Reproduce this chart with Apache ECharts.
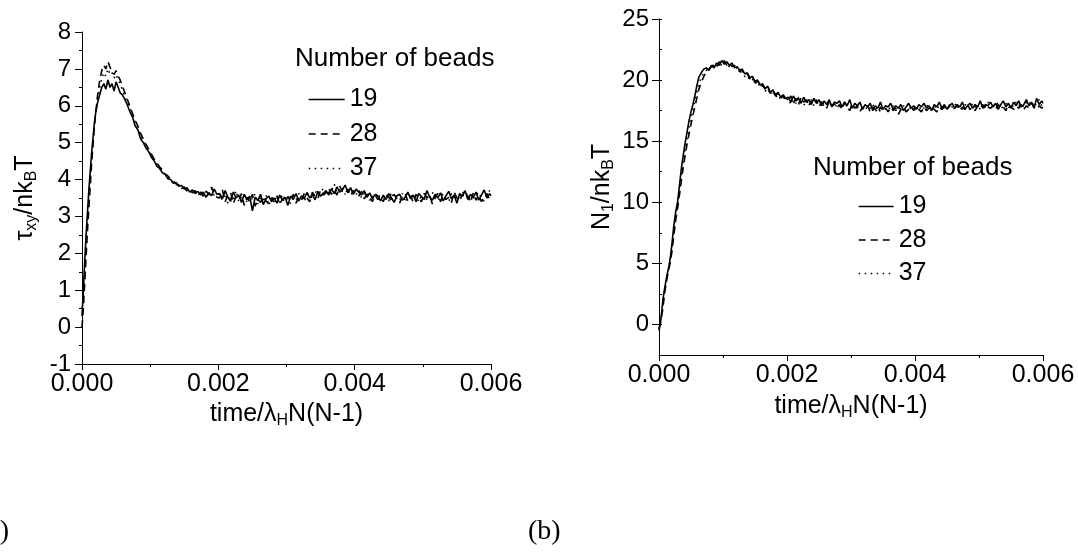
<!DOCTYPE html>
<html>
<head>
<meta charset="utf-8">
<script src="https://cdn.jsdelivr.net/npm/echarts@6/dist/echarts.min.js"></script>
<style>
html,body{margin:0;padding:0;background:#fff;}
#chart{width:1078px;height:552px;}
</style>
</head>
<body>
<div id="chart"></div>
<script>
// time grid, in units of 1e-5 (time/λH N(N-1))
const TIME_1E5 = [
  0,2,4,6,8,10,12,14,16,18,20,
  23,26,29,32,35,38,41,44,47,50,53,56,59,62,
  66,70,74,78,82,86,90,94,98,102,106,110,114,118,122,126,130,134,138,142,146,150,154,158,162,166,170,174,178,182,186,190,194,198,
  202,206,210,214,218,222,226,230,234,238,
  242,246,250,254,258,262,266,270,274,278,
  282,286,290,294,298,302,306,310,314,318,
  322,326,330,334,338,342,346,350,354,358,
  362,366,370,374,378,382,386,390,394,398,
  402,406,410,414,418,422,426,430,434,438,
  442,446,450,454,458,462,466,470,474,478,
  482,486,490,494,498,502,506,510,514,518,
  522,526,530,534,538,542,546,550,554,558,
  562,566,570,574,578,582,586,590,594,598,
  600
];

// (a) shear stress tau_xy / n kB T
const TAU_19 = [
  0.3,1.0,1.8,2.5,3.1,3.7,4.2,4.7,5.1,5.5,5.8,
  6.1,6.3,6.5,6.6,6.45,6.7,6.5,6.6,6.4,6.65,6.5,6.35,6.3,6.2,
  6.05,5.85,5.7,5.45,5.35,5.1,5.0,4.85,4.75,4.6,4.5,4.36,4.3,4.18,4.14,4.02,4.0,3.9,3.92,3.82,3.84,3.74,3.78,3.66,3.72,3.62,3.68,3.58,3.66,3.52,3.64,3.56,3.74,3.6,
  3.62,3.48,3.70,3.52,3.41,3.66,3.50,3.58,3.38,3.60,
  3.45,3.55,3.15,3.52,3.43,3.60,3.32,3.48,3.55,3.40,
  3.50,3.36,3.58,3.44,3.52,3.30,3.55,3.47,3.62,3.42,
  3.56,3.48,3.65,3.50,3.60,3.45,3.68,3.55,3.62,3.70,
  3.58,3.75,3.62,3.80,3.66,3.72,3.85,3.64,3.78,3.60,
  3.74,3.66,3.58,3.70,3.52,3.64,3.48,3.60,3.55,3.42,
  3.58,3.46,3.62,3.50,3.38,3.56,3.60,3.44,3.52,3.66,
  3.48,3.58,3.40,3.62,3.54,3.46,3.70,3.52,3.44,3.60,
  3.50,3.64,3.42,3.56,3.68,3.48,3.58,3.36,3.62,3.54,
  3.70,3.46,3.60,3.52,3.66,3.44,3.58,3.72,3.50,3.62,
  3.56
];
const TAU_28 = [
  0.0,0.5,1.2,1.9,2.6,3.2,3.8,4.4,4.9,5.4,5.8,
  6.3,6.7,6.95,7.1,7.0,7.2,7.05,6.95,6.85,6.95,6.8,6.7,6.55,6.4,
  6.2,6.0,5.8,5.6,5.45,5.25,5.1,4.95,4.82,4.68,4.55,4.45,4.34,4.26,4.15,4.1,4.0,3.96,3.88,3.86,3.78,3.8,3.7,3.74,3.64,3.7,3.6,3.66,3.56,3.7,3.58,3.8,3.62,3.52,
  3.50,3.72,3.40,3.58,3.65,3.35,3.55,3.46,3.62,3.30,
  3.52,3.40,3.60,3.28,3.46,3.38,3.55,3.42,3.34,3.50,
  3.40,3.56,3.32,3.48,3.38,3.54,3.42,3.60,3.36,3.52,
  3.44,3.62,3.50,3.40,3.66,3.54,3.48,3.72,3.58,3.64,
  3.76,3.60,3.70,3.58,3.82,3.68,3.62,3.74,3.56,3.70,
  3.62,3.55,3.68,3.48,3.60,3.52,3.40,3.58,3.46,3.54,
  3.40,3.62,3.52,3.44,3.60,3.48,3.36,3.55,3.62,3.42,
  3.56,3.38,3.60,3.48,3.40,3.64,3.50,3.58,3.34,3.52,
  3.62,3.40,3.58,3.46,3.52,3.38,3.66,3.50,3.42,3.60,
  3.48,3.56,3.38,3.64,3.44,3.58,3.40,3.54,3.62,3.46,
  3.50
];
const TAU_37 = [
  0.5,0.8,1.4,2.1,2.8,3.4,4.0,4.5,5.0,5.4,5.8,
  6.2,6.5,6.75,6.9,6.8,7.0,6.85,6.9,6.75,6.85,6.7,6.6,6.45,6.3,
  6.1,5.95,5.75,5.55,5.4,5.2,5.05,4.9,4.8,4.64,4.52,4.42,4.3,4.22,4.12,4.06,3.98,3.92,3.86,3.84,3.76,3.78,3.68,3.72,3.62,3.68,3.58,3.64,3.54,3.68,3.6,3.76,3.56,3.62,
  3.58,3.44,3.62,3.36,3.54,3.48,3.70,3.40,3.52,3.60,
  3.38,3.56,3.46,3.62,3.34,3.52,3.44,3.58,3.30,3.48,
  3.56,3.44,3.38,3.60,3.46,3.52,3.34,3.50,3.44,3.62,
  3.52,3.40,3.58,3.62,3.48,3.70,3.56,3.64,3.76,3.58,
  3.66,3.70,3.88,3.64,3.72,3.80,3.60,3.68,3.76,3.66,
  3.58,3.72,3.50,3.62,3.66,3.44,3.56,3.50,3.64,3.48,
  3.54,3.60,3.42,3.66,3.48,3.52,3.44,3.62,3.38,3.58,
  3.64,3.46,3.54,3.40,3.58,3.62,3.44,3.50,3.66,3.48,
  3.42,3.56,3.60,3.46,3.40,3.62,3.52,3.58,3.46,3.68,
  3.56,3.62,3.44,3.50,3.58,3.66,3.48,3.42,3.60,3.70,
  3.58
];

// (b) first normal stress difference N1 / n kB T
const N1_19 = [
  -0.5,0.0,0.9,2.0,2.7,3.3,3.9,4.4,4.9,5.6,6.5,
  8.0,9.2,10.0,11.4,12.8,13.9,14.9,15.8,16.7,17.4,18.0,18.7,19.5,20.2,
  20.6,20.9,21.0,20.8,21.2,21.0,21.4,21.2,21.6,21.3,21.5,21.2,21.4,21.0,21.1,20.8,20.9,20.5,20.6,20.2,20.3,19.9,20.0,19.6,19.7,19.3,19.5,19.0,19.2,18.8,19.0,18.6,18.8,18.5,
  18.6,18.2,18.7,18.3,18.5,18.1,18.6,18.2,18.4,18.0,
  18.5,18.1,18.4,17.9,18.3,18.0,18.4,17.8,18.2,18.1,
  18.3,17.8,18.2,17.9,18.4,17.7,18.1,17.9,18.2,17.6,
  18.0,17.8,18.1,17.5,17.9,17.7,18.2,17.6,17.9,17.8,
  18.1,17.6,17.9,17.7,18.0,17.5,17.8,18.1,17.7,17.9,
  17.6,18.0,17.8,18.1,17.7,17.9,17.5,18.0,17.8,18.2,
  17.7,18.0,17.6,17.9,18.1,17.7,18.0,17.8,18.2,17.6,
  17.9,18.1,17.7,18.0,17.8,18.3,17.7,18.0,17.9,18.2,
  17.8,18.1,17.6,18.0,18.3,17.8,18.1,17.7,18.2,17.9,
  18.3,17.8,18.0,18.4,17.9,18.2,17.7,18.5,18.0,18.3,
  18.1
];
const N1_28 = [
  -0.3,0.2,0.6,1.3,2.2,3.0,3.6,4.2,4.7,5.2,5.9,
  7.2,8.5,9.5,10.6,11.8,12.9,13.9,14.8,15.6,16.4,17.1,17.8,18.5,19.2,
  19.8,20.3,20.7,20.9,21.1,21.3,21.1,21.5,21.3,21.6,21.2,21.4,21.1,21.2,20.9,20.7,20.8,20.4,20.5,20.1,20.2,19.8,19.9,19.5,19.6,19.2,19.4,18.9,19.1,18.7,18.9,18.5,18.7,18.4,
  18.3,18.7,18.1,18.5,18.0,18.6,18.2,18.4,17.9,18.3,
  18.0,18.4,17.8,18.2,18.0,17.7,18.3,17.9,18.1,17.7,
  18.0,17.6,18.2,17.8,17.5,18.0,17.7,17.9,17.4,17.8,
  17.6,17.9,17.4,17.8,17.6,17.3,17.8,17.5,17.7,17.4,
  17.8,17.5,17.7,17.2,17.6,17.8,17.4,17.6,17.8,17.5,
  17.9,17.6,17.4,17.8,17.5,17.7,17.9,17.6,17.4,17.8,
  17.6,17.8,17.5,18.0,17.6,17.7,17.9,17.5,17.8,17.6,
  18.0,17.6,17.8,17.5,17.9,17.7,18.0,17.6,17.8,17.7,
  17.9,17.6,18.0,17.7,17.8,17.5,18.0,17.8,17.6,17.9,
  17.7,18.0,17.6,17.9,17.7,18.1,17.8,17.6,17.9,17.7,
  17.8
];
const N1_37 = [
  -0.4,0.1,0.7,1.6,2.4,3.1,3.7,4.3,4.8,5.4,6.2,
  7.6,8.8,9.8,11.0,12.3,13.4,14.4,15.3,16.1,16.9,17.6,18.3,19.0,19.7,
  20.2,20.6,20.8,21.1,20.9,21.3,21.1,21.4,21.2,21.5,21.3,21.1,21.3,20.9,21.0,20.7,20.6,20.3,20.4,20.0,20.1,19.7,19.9,19.4,19.5,19.1,19.3,18.9,19.0,18.6,18.8,18.4,18.6,18.3,
  18.5,18.0,18.4,18.1,18.6,18.2,17.9,18.3,18.1,18.4,
  17.9,18.2,18.0,18.3,17.8,18.1,17.9,18.2,17.7,18.0,
  17.8,18.1,17.7,18.0,17.9,17.6,18.0,17.7,18.1,17.8,
  17.5,17.9,17.7,18.0,17.6,17.8,17.4,17.9,17.6,17.8,
  17.6,17.9,17.5,17.8,17.6,17.9,17.7,17.4,17.9,17.6,
  17.8,17.5,17.9,17.7,18.0,17.6,17.8,17.7,18.0,17.6,
  17.9,17.7,18.0,17.6,17.8,18.1,17.7,17.9,17.6,18.0,
  17.8,17.6,18.1,17.8,17.9,17.6,18.1,17.8,18.2,17.7,
  18.0,17.8,18.2,17.6,17.9,18.1,17.7,18.0,17.8,18.2,
  17.9,18.1,17.8,18.2,18.0,18.3,17.8,18.1,18.4,17.9,
  18.2
];

const SERIES_NAMES = ['19', '28', '37'];
const LEFT_Y_TICKS = { min: -1, max: 8, interval: 1 };
const RIGHT_Y_TICKS = { min: -2.5, max: 25 };
const X_TICKS = { min: 0, max: 0.006, interval: 0.002 };

const FONT = '"Liberation Sans", Arial, sans-serif';
const LINE_TYPES = ['solid', [7, 5], [1.5, 4.5]];

function pairs(ys) { return TIME_1E5.map((t, i) => [t / 1e5, ys[i]]); }

const chart = echarts.init(document.getElementById('chart'), null, { renderer: 'canvas' });

const nameRich = {
  n: { fontSize: 25, fontFamily: FONT, color: '#000' },
  s: { fontSize: 16, fontFamily: FONT, color: '#000', padding: [13, 0, 0, 0] }
};

function xAxis(gridIndex, gap) {
  return {
    type: 'value', gridIndex, min: X_TICKS.min, max: X_TICKS.max, interval: X_TICKS.interval,
    name: '{n|time/λ}{s|H}{n|N(N-1)}', nameLocation: 'middle', nameGap: gap,
    nameTextStyle: { rich: nameRich },
    axisLine: { show: true, onZero: false, lineStyle: { color: '#000', width: 1 } },
    axisTick: { show: true, length: 6, lineStyle: { color: '#000' } },
    minorTick: { show: true, splitNumber: 2, length: 3, lineStyle: { color: '#000' } },
    splitLine: { show: false },
    axisLabel: { color: '#000', fontSize: 25, fontFamily: FONT, margin: 8, formatter: v => v.toFixed(3) }
  };
}

const legendText = { fontSize: 25, color: '#000', fontFamily: FONT, lineHeight: 22 };
const legendCommon = {
  data: SERIES_NAMES, orient: 'vertical', padding: 0, itemHeight: 2,
  itemStyle: { opacity: 0, borderWidth: 0 },
  lineStyle: { width: 1.4 },
  textStyle: legendText, selectedMode: false
};

const option = {
  animation: false,
  backgroundColor: '#fff',
  title: [
    { text: 'Number of beads', left: 295, top: 46, padding: 0, textStyle: { fontSize: 26, fontWeight: 'normal', color: '#000', fontFamily: FONT } },
    { text: 'Number of beads', left: 813, top: 155, padding: 0, textStyle: { fontSize: 26, fontWeight: 'normal', color: '#000', fontFamily: FONT } }
  ],
  legend: [
    Object.assign({}, legendCommon, { left: 308, top: 87, itemWidth: 36, itemGap: 9.5 }),
    Object.assign({}, legendCommon, { left: 858, top: 194, itemWidth: 35, itemGap: 8.5 })
  ],
  grid: [
    { left: 82, top: 32, width: 409, height: 332 },
    { left: 659, top: 19, width: 384, height: 336 }
  ],
  xAxis: [xAxis(0, 35), xAxis(1, 37)],
  yAxis: [
    {
      type: 'value', gridIndex: 0, min: LEFT_Y_TICKS.min, max: LEFT_Y_TICKS.max, interval: LEFT_Y_TICKS.interval,
      name: '{n|τ}{s|xy}{n|/nk}{s|B}{n|T}', nameLocation: 'middle', nameGap: 42,
      nameTextStyle: { rich: nameRich },
      axisLine: { show: true, onZero: false, lineStyle: { color: '#000' } },
      axisTick: { show: true, length: 7, lineStyle: { color: '#000' } },
      minorTick: { show: true, splitNumber: 2, length: 3, lineStyle: { color: '#000' } },
      splitLine: { show: false },
      axisLabel: { color: '#000', fontSize: 24, fontFamily: FONT, margin: 11 }
    },
    {
      type: 'value', gridIndex: 1, min: RIGHT_Y_TICKS.min, max: RIGHT_Y_TICKS.max,
      name: '{n|N}{s|1}{n|/nk}{s|B}{n|T}', nameLocation: 'middle', nameGap: 42,
      nameTextStyle: { rich: nameRich },
      axisLine: { show: true, onZero: false, lineStyle: { color: '#000' } },
      axisTick: { show: true, length: 7, lineStyle: { color: '#000' } },
      minorTick: { show: false },
      splitLine: { show: false },
      axisLabel: { color: '#000', fontSize: 24, fontFamily: FONT, margin: 10, showMinLabel: false,
        formatter: v => (v % 5 === 0 ? String(v) : '') }
    },
    {
      // minor ticks for the right-hand plot (every 2.5)
      type: 'value', gridIndex: 1, min: RIGHT_Y_TICKS.min, max: RIGHT_Y_TICKS.max, interval: 2.5,
      axisLine: { show: false },
      axisTick: { show: true, length: 3, lineStyle: { color: '#000' } },
      axisLabel: { show: false },
      splitLine: { show: false }
    }
  ],
  series: [
    ...[TAU_19, TAU_28, TAU_37].map((ys, i) => ({
      name: SERIES_NAMES[i], type: 'line', xAxisIndex: 0, yAxisIndex: 0, data: pairs(ys),
      symbol: 'none', silent: true,
      lineStyle: { color: '#000', width: 1.6, type: LINE_TYPES[i] }, itemStyle: { color: '#000' }
    })),
    ...[N1_19, N1_28, N1_37].map((ys, i) => ({
      name: SERIES_NAMES[i], type: 'line', xAxisIndex: 1, yAxisIndex: 1, data: pairs(ys),
      symbol: 'none', silent: true,
      lineStyle: { color: '#000', width: 1.6, type: LINE_TYPES[i] }, itemStyle: { color: '#000' }
    }))
  ],
  graphic: [
    { type: 'text', left: -22, top: 518, style: { text: '(a)', fontSize: 28, fontFamily: '"Liberation Serif", "Times New Roman", serif', fill: '#000' } },
    { type: 'text', left: 528, top: 518, style: { text: '(b)', fontSize: 28, fontFamily: '"Liberation Serif", "Times New Roman", serif', fill: '#000' } }
  ]
};

chart.setOption(option);
</script>
</body>
</html>
